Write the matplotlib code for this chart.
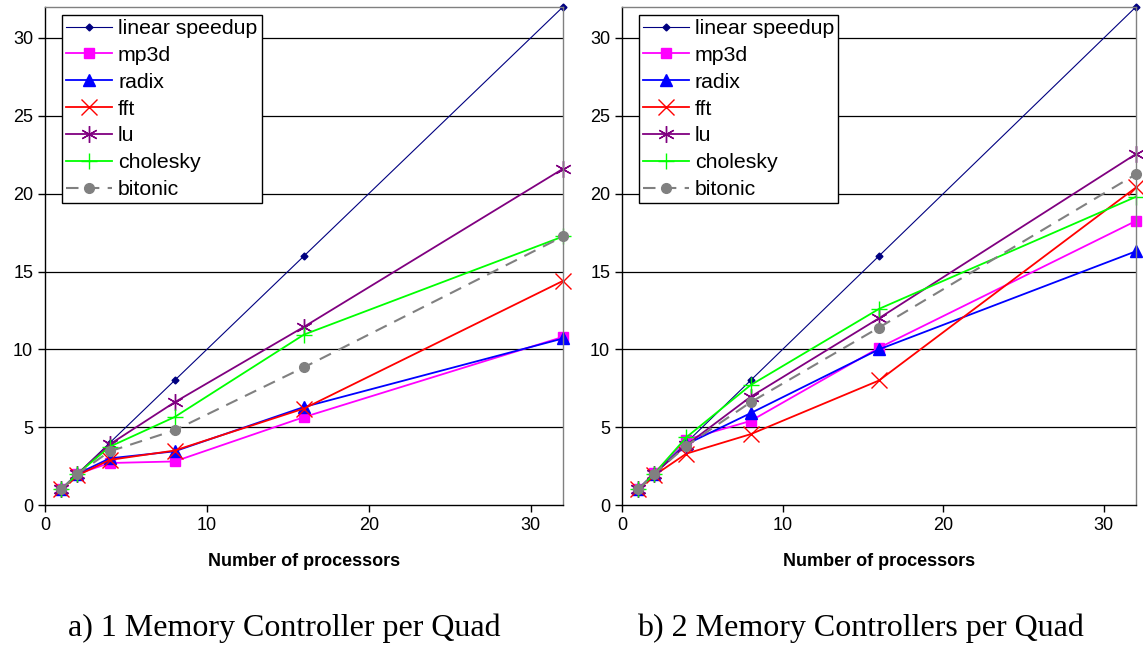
import matplotlib
matplotlib.use("Agg")
import matplotlib.pyplot as plt

plt.rcParams['font.family'] = ['Liberation Sans', 'DejaVu Sans']

# 数据
procs = [1, 2, 4, 8, 16, 32]
series_names = ['linear speedup', 'mp3d', 'radix', 'fft', 'lu', 'cholesky', 'bitonic']

linear = [1, 2, 4, 8, 16, 32]

mp3d_a = [1, 2, 2.7, 2.8, 5.65, 10.8]
radix_a = [1, 2, 3.0, 3.45, 6.3, 10.7]
fft_a = [1, 1.9, 2.9, 3.5, 6.2, 14.4]
lu_a = [1, 2, 3.9, 6.6, 11.45, 21.6]
cholesky_a = [1, 2, 3.75, 5.65, 10.95, 17.25]
bitonic_a = [1, 2, 3.45, 4.8, 8.85, 17.25]

mp3d_b = [1, 2.05, 4.2, 5.4, 10.1, 18.25]
radix_b = [1, 2, 3.9, 5.9, 10.0, 16.3]
fft_b = [1, 1.9, 3.3, 4.55, 8.0, 20.4]
lu_b = [1, 2, 3.85, 6.95, 12.0, 22.55]
cholesky_b = [1, 2, 4.35, 7.7, 12.6, 19.8]
bitonic_b = [1, 2, 3.8, 6.6, 11.4, 21.25]

captions = ['a) 1 Memory Controller per Quad', 'b) 2 Memory Controllers per Quad']

styles = [
    dict(color='#000080', lw=0.8, marker='D', ms=3.5, mfc='#000080', mec='#000080'),
    dict(color='#FF00FF', lw=1.3, marker='s', ms=7, mfc='#FF00FF', mec='#FF00FF'),
    dict(color='#0000FF', lw=1.3, marker='^', ms=8, mfc='#0000FF', mec='#0000FF'),
    dict(color='#FF0000', lw=1.3, marker='x', ms=12, mew=1.0),
    dict(color='#800080', lw=1.3, marker=(6, 2, 0), ms=12, mew=1.0),
    dict(color='#00FF00', lw=1.3, marker='+', ms=12, mew=1.0),
    dict(color='#808080', lw=1.5, marker='o', ms=7, mfc='#808080', mec='#808080',
         ls=(0, (6, 4))),
]

fig = plt.figure(figsize=(11.43, 6.5), dpi=100)
ax_a = fig.add_axes([0.0394, 0.223, 0.4532, 0.7665])
ax_b = fig.add_axes([0.5442, 0.223, 0.4497, 0.7665])

panels = [
    (ax_a, [linear, mp3d_a, radix_a, fft_a, lu_a, cholesky_a, bitonic_a]),
    (ax_b, [linear, mp3d_b, radix_b, fft_b, lu_b, cholesky_b, bitonic_b]),
]

for i, (ax, data) in enumerate(panels):
    for ys in (5, 10, 15, 20, 25, 30):
        ax.axhline(ys, color='black', lw=0.9, zorder=0)
    for name, ys, st in zip(series_names, data, styles):
        ax.plot(procs, ys, label=name, clip_on=False, **st)
    ax.set_xlim(0, 32)
    ax.set_ylim(0, 32)
    ax.set_xticks([0, 10, 20, 30])
    ax.set_yticks([0, 5, 10, 15, 20, 25, 30])
    ax.tick_params(labelsize=13, length=5, width=1, direction='out')
    for side in ('top', 'right'):
        ax.spines[side].set_color('#808080')
        ax.spines[side].set_linewidth(1)
    for side in ('left', 'bottom'):
        ax.spines[side].set_color('black')
        ax.spines[side].set_linewidth(1)
    ax.set_xlabel('Number of processors', fontsize=13, fontweight='bold', labelpad=14)
    leg = ax.legend(loc='upper left', bbox_to_anchor=(0.033, 0.984), fontsize=15.3,
                    frameon=True, fancybox=False, edgecolor='black', framealpha=1,
                    handlelength=2.15, handletextpad=0.28, borderpad=0.2,
                    labelspacing=0.37, borderaxespad=0)
    leg.get_frame().set_linewidth(1)
    cx = 0.249 if i == 0 else 0.753
    fig.text(cx, 0.0215, captions[i], ha='center', va='baseline', fontsize=23,
             family=['Liberation Serif', 'DejaVu Serif'])

fig.savefig('out.png', dpi=100)
